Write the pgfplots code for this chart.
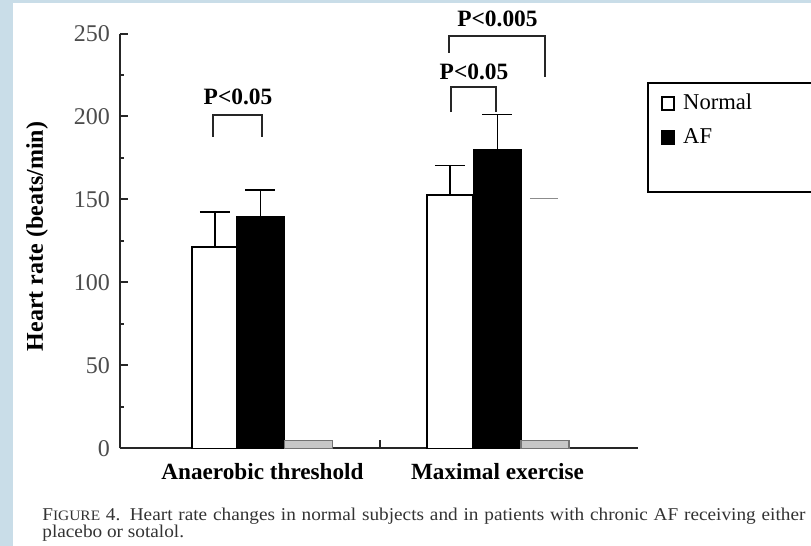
\documentclass[border=0pt]{standalone}
\usepackage{fontspec}
\setmainfont{Liberation Serif}
\newfontfamily\capfont[FakeStretch=1.07]{Liberation Serif}
\usepackage{pgfplots}
\pgfplotsset{compat=1.18}

\definecolor{pageblue}{HTML}{C9DDE8}
\definecolor{capgray}{HTML}{333333}

\begin{document}
\begin{tikzpicture}
% page and frame
\path[use as bounding box] (-60pt,-48.75pt) rectangle (345.5pt,224.25pt);
\fill[pageblue] (-60pt,-48.75pt) rectangle (345.5pt,224.25pt);
\fill[white] (-53.5pt,-48.75pt) rectangle (345.5pt,222.75pt);

\begin{axis}[
  at={(0pt,0pt)}, anchor=south west,
  scale only axis, width=259pt, height=207.5pt,
  xmin=0, xmax=518, ymin=0, ymax=250,
  axis lines=left, axis line style={-, line width=1pt, black!85},
  xtick pos=left, ytick pos=left,
  clip=false,
  xtick={260}, xticklabels={},
  extra x ticks={142.5,377.5},
  extra x tick labels={Anaerobic threshold, Maximal exercise},
  extra x tick style={major tick length=0pt,
    tick label style={font=\bfseries\fontsize{11.6}{13}\selectfont, yshift=-4pt}},
  ytick={0,50,...,250}, minor ytick={25,75,...,225},
  tick align=inside, major tick length=4pt, minor tick length=1.8pt,
  tick style={line width=1pt, black!85},
  yticklabel style={font=\fontsize{12}{13}\selectfont, text=black!70, xshift=-1.5pt},
  /pgf/number format/assume math mode=true,
  ylabel={Heart rate (beats/min)},
  ylabel style={font=\bfseries\fontsize{12}{14}\selectfont,
    at={(axis description cs:-0.16,0.511)}, anchor=center},
  legend style={at={(axis cs:527,220.8)}, anchor=north west,
    draw=black, line width=1pt, inner xsep=6.5pt, inner ysep=1.75pt,
    column sep=4pt, row sep=0pt,
    font=\fontsize{11.3}{13}\selectfont,
    nodes={inner sep=0pt, minimum height=17pt, text width=80pt}},
  legend cell align=left,
]
% Normal subjects
\addplot[ybar, bar width=46, bar shift=0pt, fill=white, draw=black, line width=0.8pt,
  legend image code/.code={\draw[black, fill=white, line width=0.9pt] (0pt,-3.1pt) rectangle (6.2pt,3.1pt);},
  error bars/.cd, y dir=plus, y explicit, error mark=|,
  error bar style={line width=0.8pt, black},
  error mark options={line width=0.8pt, black, mark size=7.5pt}]
  coordinates {(95,121.4) +- (0,20.9) (330,152.7) +- (0,17.7)};
\addlegendentry{Normal}
% chronic AF
\addplot[ybar, bar width=47, bar shift=0pt, fill=black, draw=black, line width=0.8pt,
  legend image code/.code={\draw[black, fill=black, line width=0.9pt] (0pt,-3.1pt) rectangle (6.2pt,3.1pt);},
  error bars/.cd, y dir=plus, y explicit, error mark=|,
  error bar style={line width=0.8pt, black},
  error mark options={line width=0.8pt, black, mark size=7.5pt}]
  coordinates {(140.5,139.6) +- (0,16.1) (377.5,180.2) +- (0,21.1)};
\addlegendentry{AF}
% third group
\addplot[ybar, bar width=48, bar shift=0pt, fill=black!22, draw=black!55, line width=0.6pt, forget plot]
  coordinates {(188.5,5) (425,5)};
\addlegendimage{empty legend}
\addlegendentry{}

% significance brackets
\draw[line width=0.6pt, black!85] (axis cs:93,187.7) |- (axis cs:142,200.9) -- (axis cs:142,187.7);
\node[anchor=base, font=\bfseries\fontsize{11.7}{13}\selectfont, inner sep=0pt] at (axis cs:118,207.5) {P<0.05};
\draw[line width=0.6pt, black!85] (axis cs:331,202.7) |- (axis cs:376,217.8) -- (axis cs:376,202.7);
\node[anchor=base, font=\bfseries\fontsize{11.7}{13}\selectfont, inner sep=0pt] at (axis cs:354,222.3) {P<0.05};
\draw[line width=0.6pt, black!85] (axis cs:329,238.3) |- (axis cs:425,248.5) -- (axis cs:425,223.8);
\node[anchor=base, font=\bfseries\fontsize{11.7}{13}\selectfont, inner sep=0pt] at (axis cs:377.5,254.2) {P<0.005};
\draw[line width=0.5pt, black!45] (axis cs:410,150.9) -- (axis cs:438,150.9);
\end{axis}

% caption
\node[anchor=base west, inner sep=0pt, font=\capfont\fontsize{9}{10}\selectfont, text=capgray] at (-39pt,-36.25pt)
  {\makebox[381.5pt][s]{F{\fontsize{7.2}{8}\selectfont IGURE} 4. Heart rate changes in normal subjects and in patients with chronic AF receiving either}};
\node[anchor=base west, inner sep=0pt, font=\capfont\fontsize{9}{10}\selectfont, text=capgray] at (-39pt,-44.5pt)
  {placebo or sotalol.};
\end{tikzpicture}
\end{document}
